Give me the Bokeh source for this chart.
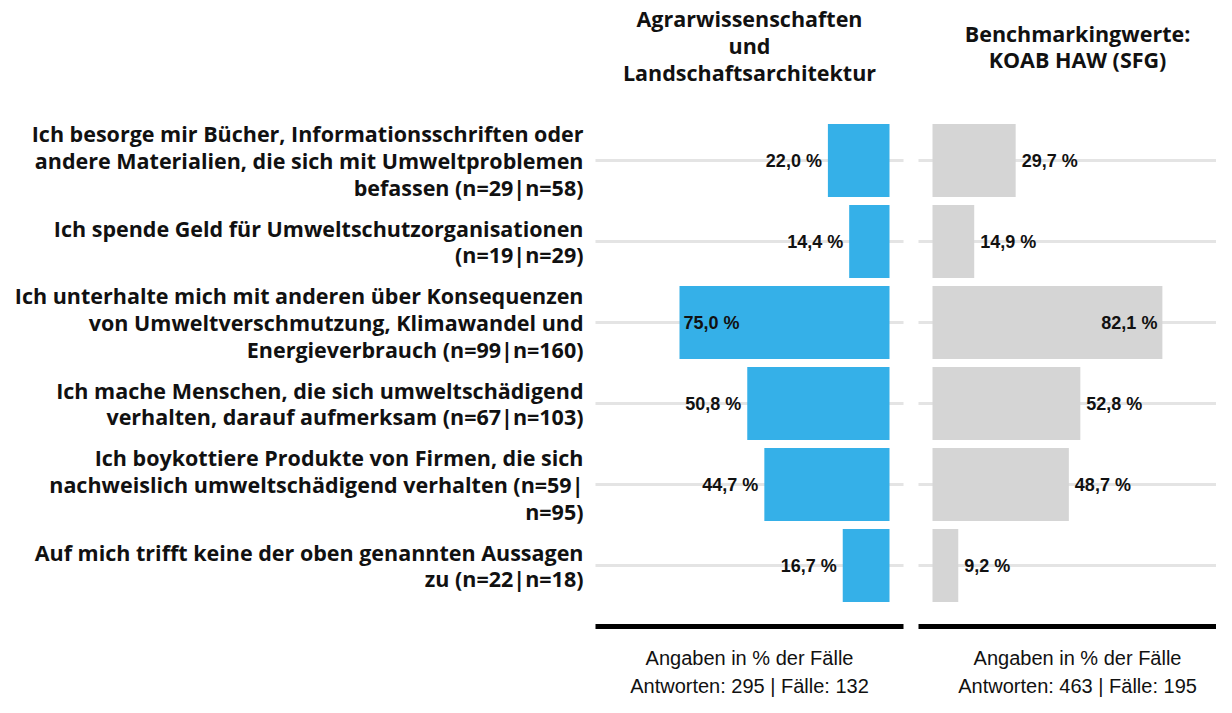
from bokeh.plotting import figure
from bokeh.models import Range1d, ColumnDataSource
from bokeh.core.properties import value
from bokeh.embed import file_html
from bokeh.resources import INLINE

categories = [
    "Ich besorge mir Bücher, Informationsschriften oder\nandere Materialien, die sich mit Umweltproblemen\nbefassen (n=29|n=58)",
    "Ich spende Geld für Umweltschutzorganisationen\n(n=19|n=29)",
    "Ich unterhalte mich mit anderen über Konsequenzen\nvon Umweltverschmutzung, Klimawandel und\nEnergieverbrauch (n=99|n=160)",
    "Ich mache Menschen, die sich umweltschädigend\nverhalten, darauf aufmerksam (n=67|n=103)",
    "Ich boykottiere Produkte von Firmen, die sich\nnachweislich umweltschädigend verhalten (n=59|\nn=95)",
    "Auf mich trifft keine der oben genannten Aussagen\nzu (n=22|n=18)",
]
left_values = [22.0, 14.4, 75.0, 50.8, 44.7, 16.7]
right_values = [29.7, 14.9, 82.1, 52.8, 48.7, 9.2]
left_title = "Agrarwissenschaften\nund\nLandschaftsarchitektur"
right_title = "Benchmarkingwerte:\nKOAB HAW (SFG)"
left_footer = ["Angaben in % der Fälle", "Antworten: 295 | Fälle: 132"]
right_footer = ["Angaben in % der Fälle", "Antworten: 463 | Fälle: 195"]

BLUE = "#35B0E8"
GREY = "#D5D5D5"
TXT = "#111111"
LABEL_FONT = "Open Sans"
VAL_FONT = "Liberation Sans"
FOOT_FONT = "Liberation Sans"

W, H = 1216, 697
PX = 2.8          # pixels per percent
ROW = 81.0        # pixels per category
x0_left, x0_right, y0 = 889, 932, 160

p = figure(width=W, height=H, output_backend="svg", toolbar_location=None,
           x_range=Range1d(x0_left / PX, x0_left / PX - W / PX),
           y_range=Range1d(-y0 / ROW + H / ROW, -y0 / ROW),
           min_border=0)
p.extra_x_ranges = {"r": Range1d(-x0_right / PX, -x0_right / PX + W / PX)}
p.xaxis.visible = False
p.yaxis.visible = False
p.grid.visible = False
p.outline_line_color = None
p.background_fill_color = None
p.border_fill_color = "white"

def ypix(py):
    return (py - y0) / ROW

n = len(categories)
ys = list(range(n))

# grid lines
p.segment(x0=[-5] * n, x1=[105] * n, y0=ys, y1=ys, line_color="#E4E4E4", line_width=3)
p.segment(x0=[-5] * n, x1=[106] * n, y0=ys, y1=ys, line_color="#E4E4E4", line_width=3,
          x_range_name="r")

# bars
p.hbar(y=ys, left=0, right=left_values, height=0.9, fill_color=BLUE, line_color=None)
p.hbar(y=ys, left=0, right=right_values, height=0.9, fill_color=GREY, line_color=None,
       x_range_name="r")

def fmt(v):
    return f"{v:.1f}".replace(".", ",") + " %"

INSIDE = 70
for vals, rname in ((left_values, "default"), (right_values, "r")):
    out = ColumnDataSource(dict(x=[v for v in vals if v < INSIDE],
                                y=[i for i, v in enumerate(vals) if v < INSIDE],
                                t=[fmt(v) for v in vals if v < INSIDE]))
    ins = ColumnDataSource(dict(x=[v for v in vals if v >= INSIDE],
                                y=[i for i, v in enumerate(vals) if v >= INSIDE],
                                t=[fmt(v) for v in vals if v >= INSIDE]))
    kw = dict(text="t", text_font=value(VAL_FONT), text_font_style="bold", text_font_size="18px",
              text_baseline="middle", text_color=TXT)
    if rname == "default":
        p.text(x="x", y="y", source=out, text_align="right", x_offset=-6, **kw)
        p.text(x="x", y="y", source=ins, text_align="left", x_offset=4, **kw)
    else:
        p.text(x="x", y="y", source=out, text_align="left", x_offset=6, x_range_name="r", **kw)
        p.text(x="x", y="y", source=ins, text_align="right", x_offset=-5, x_range_name="r", **kw)

lab = dict(text_font=value(LABEL_FONT), text_font_style="bold", text_font_size="21.5px",
           text_line_height=0.93, text_color=TXT, text_baseline="middle")

# category labels
p.text(x=[(x0_left - 583) / PX] * n, y=ys, text=categories, text_align="right", **lab)

# titles
p.text(x=[50], y=[ypix(45)], text=[left_title], text_align="center", **lab)
p.text(x=[51.8], y=[ypix(46)], text=[right_title], text_align="center", x_range_name="r", **lab)

# thick baselines
yb = ypix(626)
p.segment(x0=[-5], x1=[105], y0=[yb], y1=[yb], line_color="black", line_width=5)
p.segment(x0=[-5], x1=[106], y0=[yb], y1=[yb], line_color="black", line_width=5, x_range_name="r")

# footers
for k, (lt, rt) in enumerate(zip(left_footer, right_footer)):
    yy = ypix(657 + 28 * k)
    p.text(x=[50], y=[yy], text=[lt], text_align="center", text_baseline="middle",
           text_font=value(FOOT_FONT), text_font_size="20px", text_color=TXT)
    p.text(x=[51.8], y=[yy], text=[rt], text_align="center", text_baseline="middle",
           text_font=value(FOOT_FONT), text_font_size="20px", text_color=TXT, x_range_name="r")

open("out.html", "w").write(file_html(p, INLINE))
